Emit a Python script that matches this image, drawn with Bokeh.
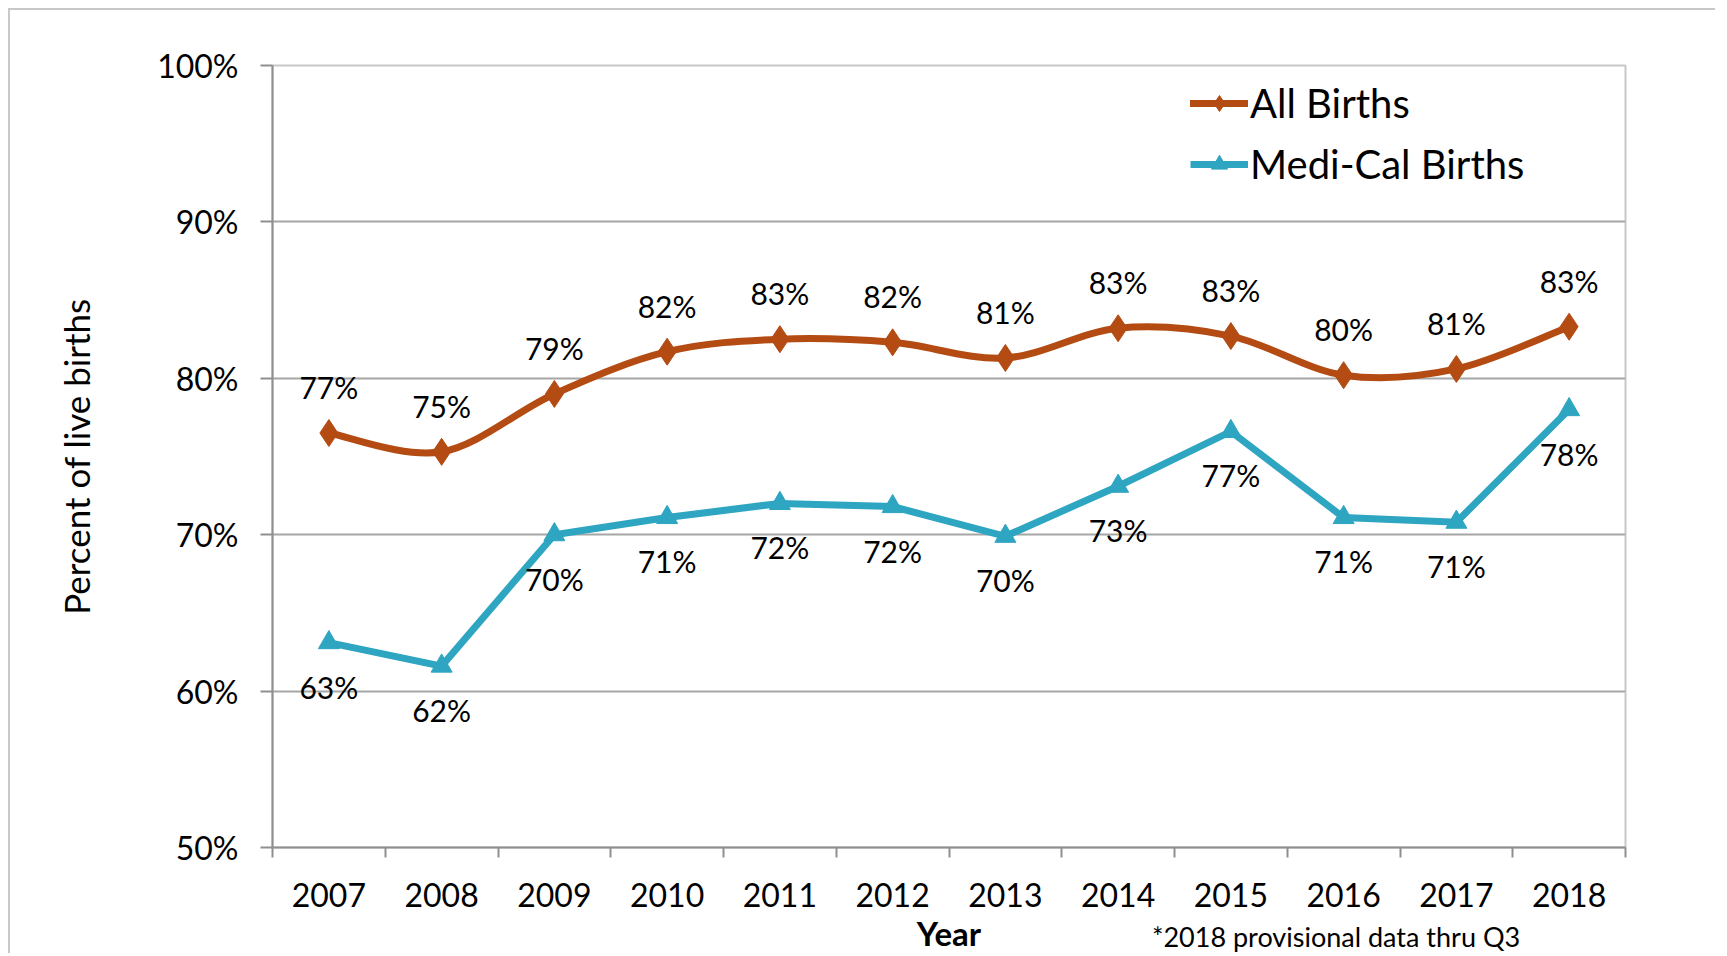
import numpy as np
from bokeh.plotting import figure
from bokeh.models import (Range1d, FixedTicker, PrintfTickFormatter, Legend, LegendItem, Label)
from bokeh.core.properties import value
from bokeh.embed import file_html
from bokeh.resources import INLINE

years = ["2007", "2008", "2009", "2010", "2011", "2012", "2013", "2014", "2015", "2016", "2017", "2018"]
all_births = [76.5, 75.3, 79.0, 81.7, 82.5, 82.3, 81.3, 83.2, 82.7, 80.2, 80.6, 83.3]
all_labels = ["77%", "75%", "79%", "82%", "83%", "82%", "81%", "83%", "83%", "80%", "81%", "83%"]
medi_cal = [63.1, 61.6, 70.0, 71.1, 72.0, 71.8, 69.9, 73.1, 76.6, 71.1, 70.8, 78.0]
medi_labels = ["63%", "62%", "70%", "71%", "72%", "72%", "70%", "73%", "77%", "71%", "71%", "78%"]
y_ticks = [50, 60, 70, 80, 90, 100]
footnote = "*2018 provisional data thru Q3"

ORANGE = "#B44B12"
TEAL = "#2EA5C1"
FONT = "Lato"

x = [i + 0.5 for i in range(len(years))]

p = figure(width=1707, height=945, output_backend="svg", toolbar_location=None,
           x_range=Range1d(0, len(years)), y_range=Range1d(50, 100),
           min_border_left=262, min_border_right=92, min_border_top=55, min_border_bottom=106)
p.styles = {"margin-left": "8px", "margin-top": "8px",
            "border-left": "2px solid #c8c8c8", "border-top": "2px solid #c8c8c8"}
p.outline_line_color = "#c8c8c8"
p.outline_line_width = 2

# axes
p.xaxis.ticker = FixedTicker(ticks=x, minor_ticks=list(range(len(years) + 1)))
p.xaxis.major_label_overrides = {xi: y for xi, y in zip(x, years)}
p.xaxis.major_tick_out = 0
p.xaxis.major_tick_in = 0
p.xaxis.minor_tick_out = 10
p.xaxis.minor_tick_in = 0
p.xaxis.minor_tick_line_color = "#8f8f8f"
p.xaxis.minor_tick_line_width = 2
p.xaxis.axis_line_color = "#8f8f8f"
p.xaxis.axis_line_width = 2
p.xaxis.major_label_standoff = 25
p.xaxis.major_label_text_font = FONT
p.xaxis.major_label_text_font_size = "32px"
p.xaxis.major_label_text_color = "black"
p.xaxis.axis_label = "Year"
p.xaxis.axis_label_text_font = FONT
p.xaxis.axis_label_text_font_size = "33px"
p.xaxis.axis_label_text_font_style = "bold"
p.xaxis.axis_label_text_color = "black"
p.xaxis.axis_label_standoff = 3

p.yaxis.ticker = FixedTicker(ticks=y_ticks)
p.yaxis.formatter = PrintfTickFormatter(format="%d%%")
p.yaxis.major_tick_out = 12
p.yaxis.major_tick_in = 0
p.yaxis.minor_tick_line_color = None
p.yaxis.major_tick_line_color = "#8f8f8f"
p.yaxis.major_tick_line_width = 2
p.yaxis.axis_line_color = "#8f8f8f"
p.yaxis.axis_line_width = 2
p.yaxis.major_label_standoff = 22
p.yaxis.major_label_text_font = FONT
p.yaxis.major_label_text_font_size = "32px"
p.yaxis.major_label_text_color = "black"
p.yaxis.axis_label = "Percent of live births"
p.yaxis.axis_label_text_font = FONT
p.yaxis.axis_label_text_font_size = "35px"
p.yaxis.axis_label_text_font_style = "normal"
p.yaxis.axis_label_text_color = "black"
p.yaxis.axis_label_standoff = 57

p.xgrid.grid_line_color = None
p.ygrid.ticker = FixedTicker(ticks=y_ticks)
p.ygrid.grid_line_color = "#a6a6a6"
p.ygrid.grid_line_width = 2

# smoothed All Births line (Catmull-Rom style bezier through the data points)
xa = np.array(x)
ya = np.array(all_births)
n = len(xa)
x0, y0, x1, y1, cx0, cy0, cx1, cy1 = [], [], [], [], [], [], [], []
for i in range(n - 1):
    im1 = max(i - 1, 0)
    ip2 = min(i + 2, n - 1)
    x0.append(xa[i]); y0.append(ya[i]); x1.append(xa[i + 1]); y1.append(ya[i + 1])
    cx0.append(xa[i] + (xa[i + 1] - xa[im1]) / 6.0)
    cy0.append(ya[i] + (ya[i + 1] - ya[im1]) / 6.0)
    cx1.append(xa[i + 1] - (xa[ip2] - xa[i]) / 6.0)
    cy1.append(ya[i + 1] - (ya[ip2] - ya[i]) / 6.0)
bez = p.bezier(x0=x0, y0=y0, x1=x1, y1=y1, cx0=cx0, cy0=cy0, cx1=cx1, cy1=cy1,
               line_color=ORANGE, line_width=7, line_cap="round")
sc_all = p.scatter(x, all_births, marker="diamond", size=27,
                   fill_color=ORANGE, line_color=ORANGE)

ln_medi = p.line(x, medi_cal, line_color=TEAL, line_width=7, line_join="miter")
sc_medi = p.scatter(x, medi_cal, marker="triangle", size=21, fill_color=TEAL, line_color=TEAL)

# data labels
p.text(x, all_births, text=all_labels, text_align="center", text_baseline="middle",
       y_offset=-46, text_font=value(FONT), text_font_size="30px", text_color="black")
p.text(x, medi_cal, text=medi_labels, text_align="center", text_baseline="middle",
       y_offset=44, text_font=value(FONT), text_font_size="30px", text_color="black")

legend = Legend(items=[LegendItem(label="All Births", renderers=[bez, sc_all]),
                       LegendItem(label="Medi-Cal Births", renderers=[ln_medi, sc_medi])],
                location=(918, 659), orientation="vertical",
                label_text_font=FONT, label_text_font_size="40px", label_text_color="black",
                glyph_width=58, glyph_height=40, label_standoff=2, spacing=13,
                padding=0, margin=0, border_line_color=None, background_fill_alpha=0)
p.add_layout(legend)

# footnote: a data-positioned label hosted in a side panel so it is not clipped to the frame
p.add_layout(Label(x=7.8, y=44.3, text=footnote, text_font=FONT,
                   text_font_size="27px", text_baseline="middle", text_align="left",
                   text_color="black"), "above")

open("out.html", "w").write(file_html(p, INLINE))
